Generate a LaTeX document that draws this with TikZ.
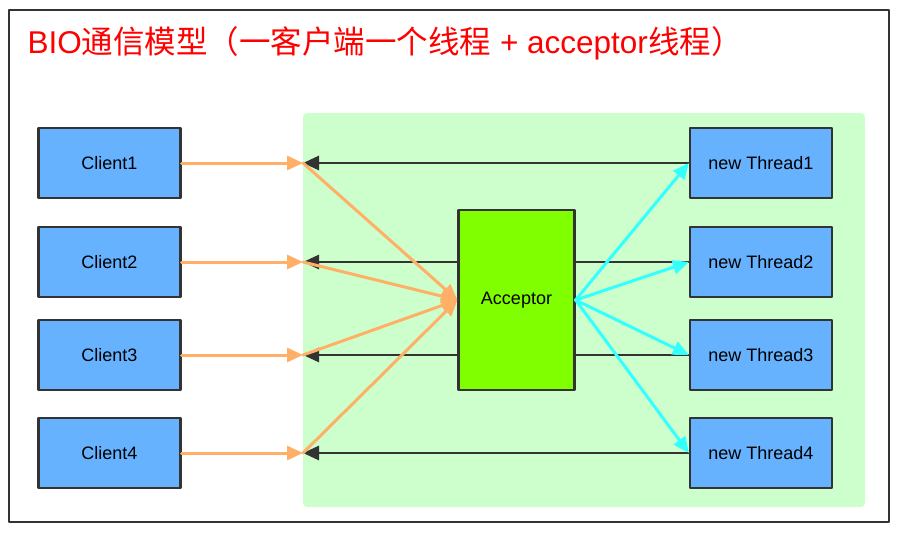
\documentclass[tikz,border=0pt]{standalone}
\usepackage{fontspec}
\setmainfont{Liberation Sans}
\newfontfamily\cjk{Noto Sans CJK SC}
\usetikzlibrary{arrows.meta}
\definecolor{boxblue}{HTML}{66B2FF}
\definecolor{accgreen}{HTML}{80FF00}
\definecolor{bggreen}{HTML}{CCFFCC}
\definecolor{reqorange}{HTML}{FFB066}
\definecolor{thrcyan}{HTML}{33FFFF}
\definecolor{edgegray}{HTML}{333333}
\begin{document}
\begin{tikzpicture}[x=1pt, y=-1pt, font=\fontsize{18}{20}\selectfont, line join=round, line cap=round,
  >={Triangle[length=16pt,width=14pt]},
  box/.style={draw=edgegray, line width=2.2pt, fill=boxblue, minimum width=142pt, minimum height=70pt, inner sep=0pt},
  acc/.style={draw=edgegray, line width=2.2pt, fill=accgreen, minimum width=116pt, minimum height=180pt, inner sep=0pt},
  back/.style={->, draw=edgegray, fill=edgegray, line width=2.8pt},
  req/.style={->, draw=reqorange, fill=reqorange, line width=3pt},
  spawn/.style={->, draw=thrcyan, fill=thrcyan, line width=3pt}]
\useasboundingbox (0,0) rectangle (900,533);
\fill[bggreen, rounded corners=4pt] (303,113) rectangle (865,507);
\draw[edgegray, line width=2.4pt] (9,10) rectangle (889,522);
\node[anchor=base west, text=red, font=\fontsize{31.5}{34}\selectfont] (title) at (24,53)
  {BIO{\cjk 通信模型（一客户端一个线程} + acceptor{\cjk 线程）}};
\foreach \i/\y in {1/163,2/262,3/355,4/453}{
  \node[box] (c\i) at (109.5,\y) {Client\i};
  \node[box] (t\i) at (761,\y) {new Thread\i};
  \coordinate (p\i) at (303,\y);
  \draw[back] (t\i.west) -- (p\i);
}
\node[acc] (acceptor) at (516.5,300) {Acceptor};
\foreach \i in {1,...,4}{
  \draw[req] (c\i.east) -- (p\i);
  \draw[req] (p\i) -- (acceptor.west);
  \draw[spawn] (acceptor.east) -- (t\i.west);
}
\end{tikzpicture}
\end{document}
